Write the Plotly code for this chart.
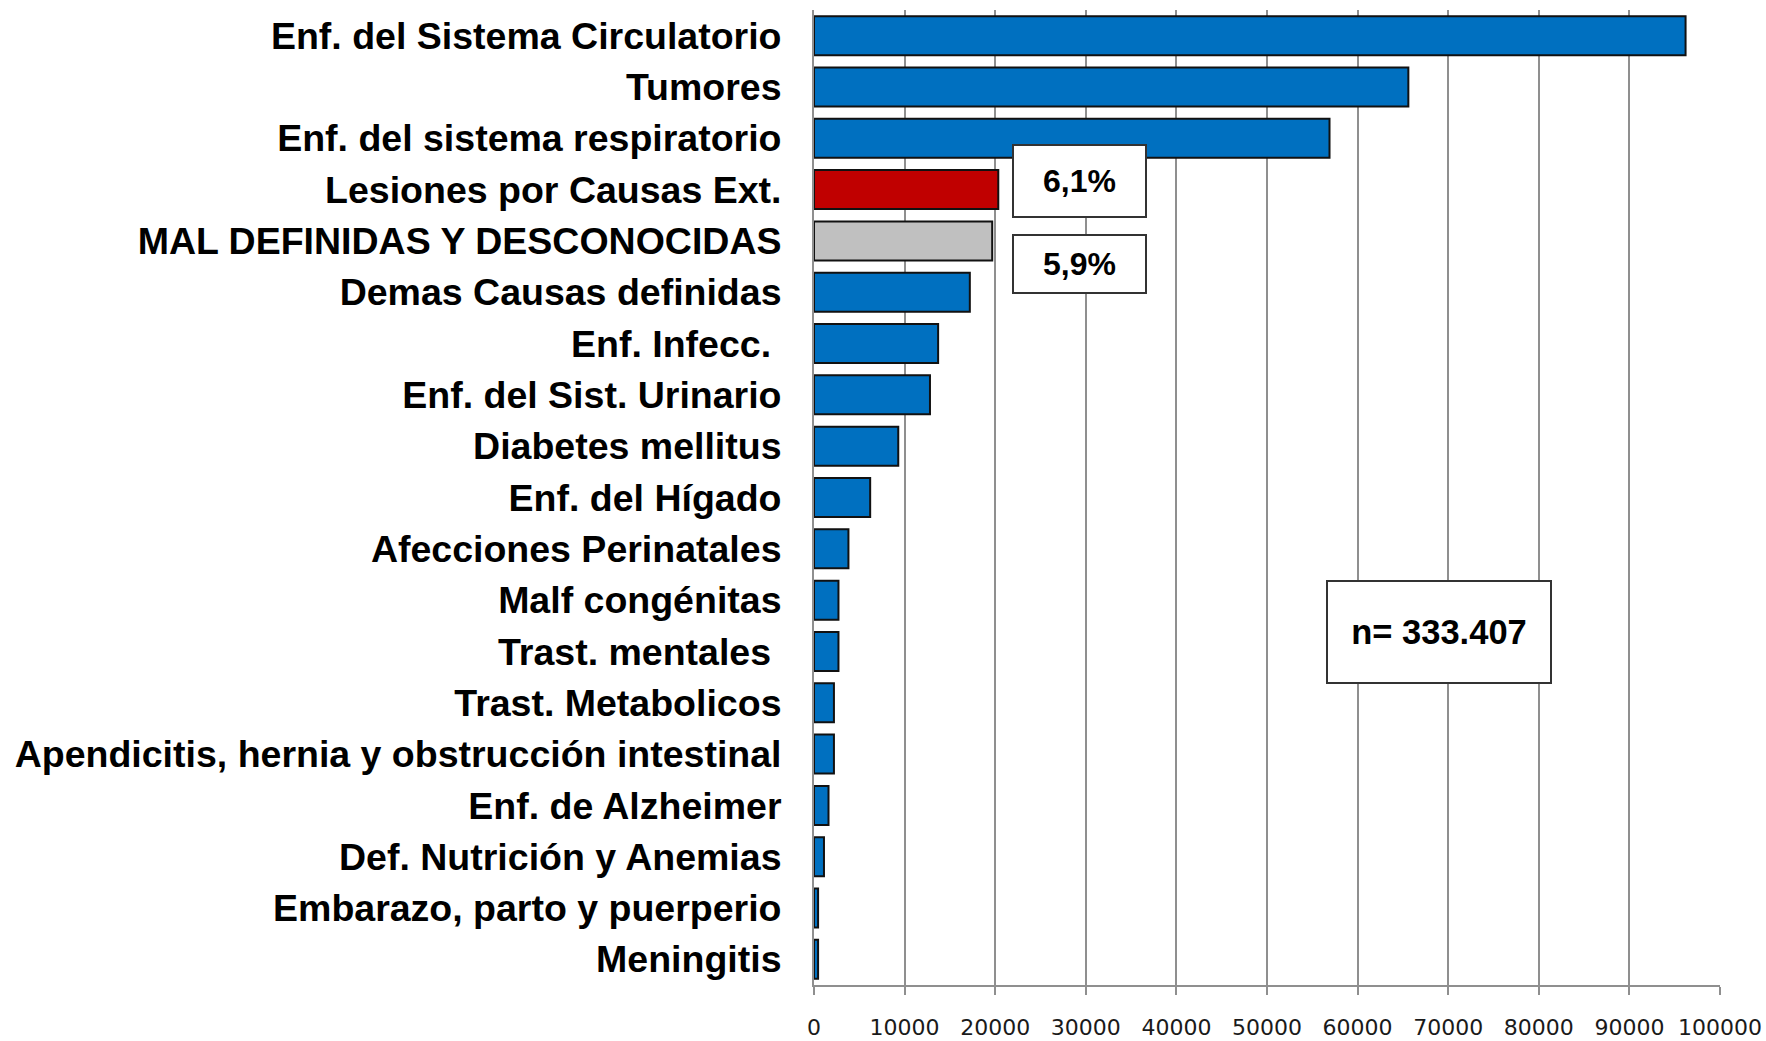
import plotly.graph_objects as go

# ── datos ────────────────────────────────────────────────────────────────────
causas = [
    "Enf. del Sistema Circulatorio",
    "Tumores",
    "Enf. del sistema respiratorio",
    "Lesiones por Causas Ext.",
    "MAL DEFINIDAS Y DESCONOCIDAS",
    "Demas Causas definidas",
    "Enf. Infecc. ",
    "Enf. del Sist. Urinario",
    "Diabetes mellitus",
    "Enf. del Hígado",
    "Afecciones Perinatales",
    "Malf congénitas",
    "Trast. mentales ",
    "Trast. Metabolicos",
    "Apendicitis, hernia y obstrucción intestinal",
    "Enf. de Alzheimer",
    "Def. Nutrición y Anemias",
    "Embarazo, parto y puerperio",
    "Meningitis",
]
defunciones = [96200, 65600, 56900, 20340, 19670, 17200, 13700, 12800, 9300,
               6200, 3800, 2700, 2700, 2200, 2200, 1600, 1100, 450, 450]

x_ticks = [0, 10000, 20000, 30000, 40000, 50000, 60000, 70000, 80000, 90000, 100000]
pct_lesiones = "6,1%"
pct_mal_def = "5,9%"
total_n = "n= 333.407"

# ── estilo ───────────────────────────────────────────────────────────────────
AZUL, ROJO, GRIS = "#0070C0", "#C00000", "#C0C0C0"
resaltar = {"Lesiones por Causas Ext.": ROJO, "MAL DEFINIDAS Y DESCONOCIDAS": GRIS}
colores = [resaltar.get(c, AZUL) for c in causas]
FUENTE = "Liberation Sans, Arial"

fig = go.Figure(go.Bar(
    x=defunciones, y=causas, orientation="h",
    marker=dict(color=colores, line=dict(color="#111111", width=2)),
    showlegend=False,
))

fig.update_xaxes(
    range=[0, 100000], tickvals=x_ticks, ticktext=[str(v) for v in x_ticks],
    showgrid=True, gridcolor="#8f8f8f", gridwidth=1.5,
    showline=True, linecolor="#8f8f8f", linewidth=2,
    ticks="outside", ticklen=8, tickcolor="#8f8f8f", tickwidth=1.5,
    tickfont=dict(family="DejaVu Sans", size=22, color="#1a1a1a"),
    ticklabelstandoff=14, zeroline=False, automargin=False,
)
fig.update_yaxes(
    autorange="reversed", showgrid=False,
    showline=True, linecolor="#8f8f8f", linewidth=2, ticks="",
    tickfont=dict(family=FUENTE, size=37.5, color="#000000", weight="bold"),
    ticklabelstandoff=23, automargin=False,
)

# cajas de texto (posición en fracción del área de trazado)
caja = dict(xref="paper", yref="paper", xanchor="center", yanchor="middle",
            showarrow=False, bgcolor="white",
            bordercolor="#333333", borderwidth=2, borderpad=0)
fig.add_annotation(text=pct_lesiones, x=0.293, y=0.8246, width=131, height=70,
                   font=dict(family=FUENTE, size=32, color="#000", weight="bold"), **caja)
fig.add_annotation(text=pct_mal_def, x=0.293, y=0.7395, width=131, height=56,
                   font=dict(family=FUENTE, size=32, color="#000", weight="bold"), **caja)
fig.add_annotation(text=total_n, x=0.6898, y=0.3621, width=222, height=100,
                   font=dict(family=FUENTE, size=34.5, color="#000", weight="bold"), **caja)

fig.update_layout(
    width=1766, height=1041,
    margin=dict(l=814, r=46, t=10, b=56),
    bargap=0.24,
    plot_bgcolor="white", paper_bgcolor="white",
)

fig.write_html("out.html", config={"displayModeBar": False},
               post_script="document.body.style.margin='0';")
